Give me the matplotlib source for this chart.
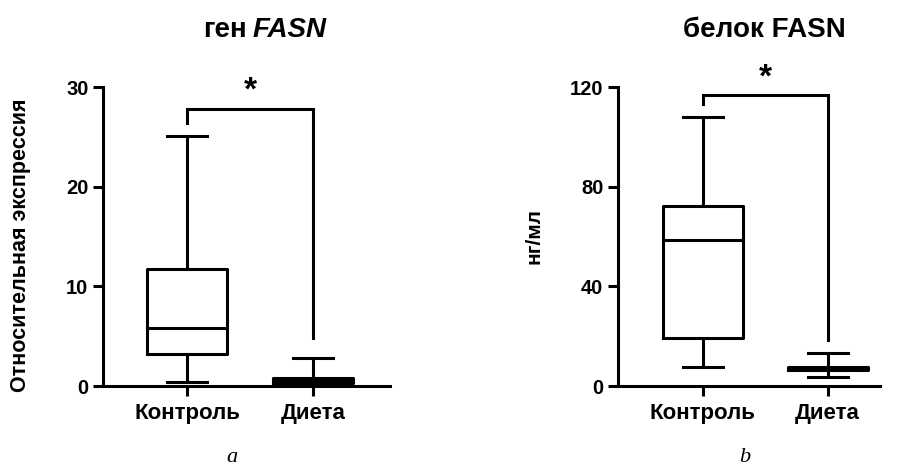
import matplotlib
matplotlib.use("Agg")
import matplotlib.pyplot as plt

plt.rcParams['font.family'] = ['Liberation Sans', 'DejaVu Sans']
plt.rcParams['font.weight'] = 'bold'

groups = ["Контроль", "Диета"]

# gene FASN, relative expression: whislo, q1, med, q3, whishi
gene_ctrl = [0.4, 3.2, 5.8, 11.7, 25.1]
gene_diet = [0.1, 0.3, 0.5, 0.8, 2.8]
gene_bracket = [26.4, 27.8, 4.8]   # left foot, top, right foot

# protein FASN, ng/ml
prot_ctrl = [7.6, 19.2, 58.4, 72.4, 108.0]
prot_diet = [3.6, 6.4, 7.1, 7.8, 13.2]
prot_bracket = [113.0, 116.8, 18.4]

LW = 2.2


def stats(vals, label):
    lo, q1, med, q3, hi = vals
    return dict(whislo=lo, q1=q1, med=med, q3=q3, whishi=hi, label=label, fliers=[])


def panel(ax, ctrl, diet, bracket, ylim, yticks, star_y):
    st = [stats(ctrl, groups[0]), stats(diet, groups[1])]
    lp = dict(color='black', linewidth=LW)
    ax.bxp(st, positions=[0, 1], widths=0.64, capwidths=0.32, showfliers=False,
           boxprops=lp, whiskerprops=lp, capprops=lp, medianprops=lp)
    l, t, r = bracket
    ax.plot([0, 0, 1, 1], [l, t, t, r], color='black', lw=LW, clip_on=False,
            solid_joinstyle='miter')
    ax.text(0.5, star_y, "*", ha='center', va='center', fontsize=24,
            fontweight='bold')
    ax.set_ylim(*ylim)
    ax.set_yticks(yticks)
    for s in ['top', 'right']:
        ax.spines[s].set_visible(False)
    for s in ['left', 'bottom']:
        ax.spines[s].set_linewidth(LW)
    ax.tick_params(width=LW, length=7)
    ax.tick_params(axis='y', labelsize=14.5)
    ax.tick_params(axis='x', labelsize=16, pad=5)
    for lab in ax.get_xticklabels() + ax.get_yticklabels():
        lab.set_fontweight('bold')


fig = plt.figure(figsize=(9.01, 4.67), dpi=100)
ax1 = fig.add_axes([103 / 901, 81 / 467, 287 / 901, 299 / 467])
ax2 = fig.add_axes([618 / 901, 81 / 467, 262 / 901, 299 / 467])

panel(ax1, gene_ctrl, gene_diet, gene_bracket, (0, 30), [0, 10, 20, 30], 29.6)
ax1.set_xlim(-0.667, 1.61)
ax1.set_ylabel("Относительная экспрессия", fontsize=15.5, fontweight='bold')
ax1.yaxis.set_label_coords(-0.252, 0.47)

panel(ax2, prot_ctrl, prot_diet, prot_bracket, (0, 120), [0, 40, 80, 120], 123.5)
ax2.set_xlim(-0.68, 1.42)
ax2.set_ylabel("нг/мл", fontsize=15, fontweight='bold', labelpad=19)

fig.text(247 / 901, 1 - 30 / 467, "ген", ha='right', va='center', fontsize=20,
         fontweight='bold')
fig.text(253 / 901, 1 - 30 / 467, "FASN", ha='left', va='center', fontsize=20,
         fontweight='bold', style='italic')
fig.text(764 / 901, 1 - 30 / 467, "белок FASN", ha='center', va='center',
         fontsize=20, fontweight='bold')

fig.text(232 / 901, 1 - 457 / 467, "a", ha='center', va='center', fontsize=16,
         family='Liberation Serif', style='italic', fontweight='normal')
fig.text(745 / 901, 1 - 457 / 467, "b", ha='center', va='center', fontsize=16,
         family='Liberation Serif', style='italic', fontweight='normal')

fig.savefig("out.png", dpi=100)
